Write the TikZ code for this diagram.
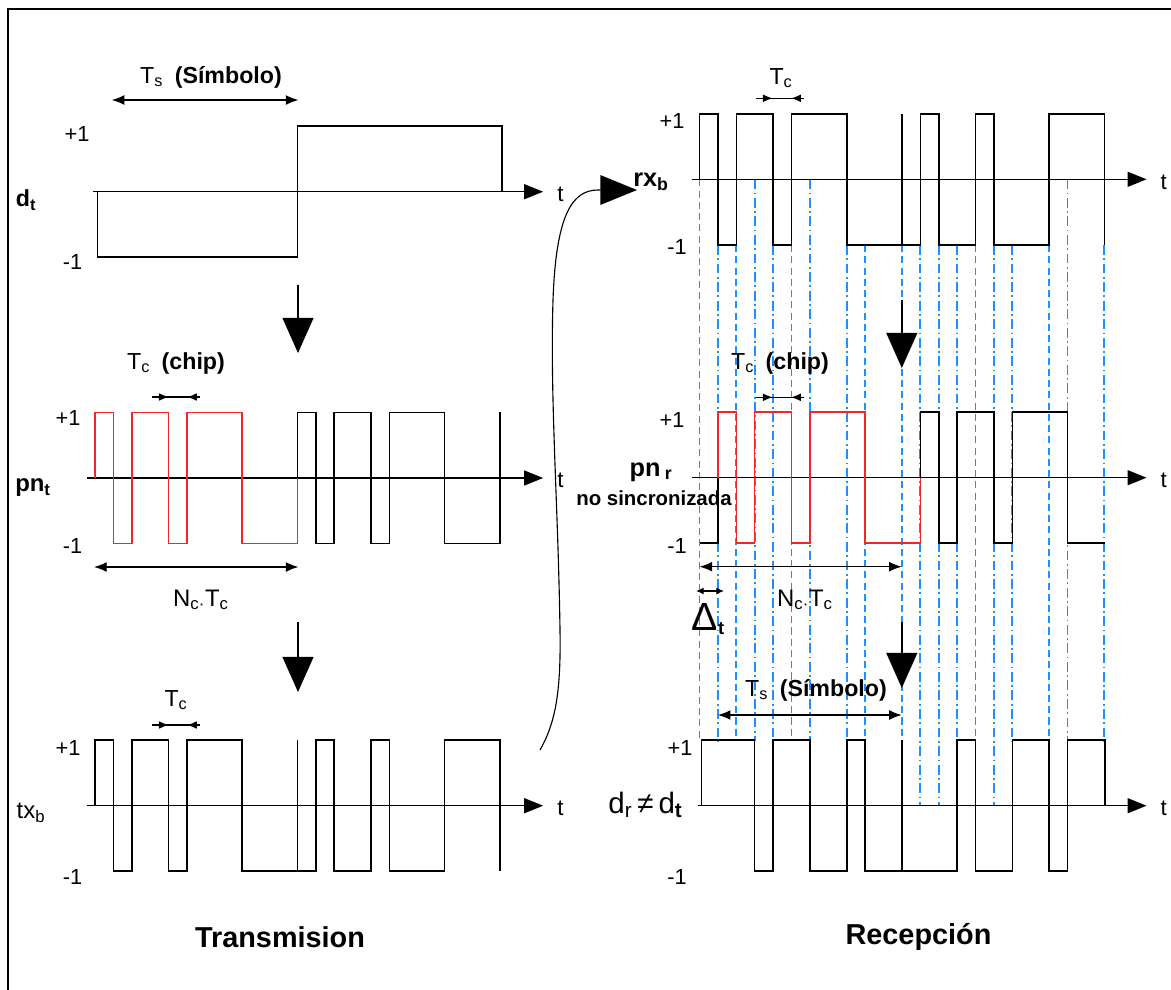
\documentclass[tikz,border=0pt]{standalone}
\usepackage{fontspec}
\setmainfont{Liberation Sans}
\usetikzlibrary{arrows.meta}
\definecolor{chipred}{RGB}{240,40,40}
\definecolor{syncblue}{RGB}{30,144,255}

% small chip-width marker: inner left, inner right, height
\newcommand{\tcmark}[3]{%
  \draw[line width=0.9pt] ({#1-17},#3) -- ({#2+13},#3);
  \draw[chipmark] ({#1-17},#3) -- (#1,#3);
  \draw[chipmark] ({#2+13},#3) -- (#2,#3);
}

\tikzset{
  sig/.style={line width=1.1pt},
  redsig/.style={line width=1.1pt,chipred},
  axis/.style={line width=1.1pt,-{Triangle[length=13.5pt,width=10.6pt]}},
  flow/.style={line width=1.1pt,-{Triangle[length=25pt,width=22pt]}},
  span/.style={line width=0.9pt,{Latex[length=9pt,width=7pt]}-{Latex[length=9pt,width=7pt]}},
  chipmark/.style={line width=0.9pt,-{Latex[length=7pt,width=5.5pt]}},
  bluedash/.style={syncblue,line width=1.4pt,dash pattern=on 5pt off 3pt},
  bluedot/.style={syncblue,line width=1.4pt,dash pattern=on 7pt off 2.5pt on 1.2pt off 2.5pt},
  lvl/.style={font=\fontsize{15.5}{17}\selectfont,inner sep=0pt},
  lbl/.style={font=\fontsize{16.5}{18}\selectfont,inner sep=0pt},
  tlab/.style={font=\fontsize{16}{18}\selectfont,inner sep=0pt,anchor=base west,xshift=9.5pt,yshift=-7pt},
  chips/.style={x=0.46cm,y=1.6375cm}
}

\begin{document}
\begin{tikzpicture}[x=0.025cm,y=-0.025cm]
  \useasboundingbox (0,0) rectangle (1171,989);
  \fill[white] (0,0) rectangle (1171,989);
  \clip (0,0) rectangle (1171,989);
  \draw[line width=1.2pt] (8,1000) -- (8,9) -- (1180,9);

  % sampling instants of the receiver
  \foreach \k/\ya/\yb/\sty in {0/179.3/741/bluedash,1/245/741/bluedot,2/245/741/bluedash,
      3/179.3/741/bluedot,4/245/741/bluedot,5/245/741/bluedash,6/179.3/741/bluedot,
      8/245/741/bluedot,9/245/741/bluedash,11/245/741/bluedash,12/245/805.7/bluedot,
      13/245/805.7/bluedot,14/245/741/bluedot,15/245/741/bluedash,16/245/805.7/bluedot,
      17/245/741/bluedot,19/245/741/bluedash,20/179.3/741/bluedot,22/245/741/bluedot}{
    \pgfmathsetmacro{\px}{699.5+18.4*\k}
    \draw[\sty] (\px,\ya) -- (\px,\yb);
  }

  % ---------- Transmision ----------
  \begin{scope}[shift={(95,191.7)},chips]
    \draw[axis] (-0.11,0) -- (24.35,0) node[tlab] (dt-t) {t};
    \draw[sig] (0.14,0) -- (0.14,-1) -- (11,-1) -- (11,1) -- (22.1,1) -- (22.1,0);
  \end{scope}
  \begin{scope}[shift={(95,478)},chips]
    \draw[axis] (-0.435,0) -- (24.35,0) node[tlab] (pn-t) {t};
    \draw[redsig] (0,0) -- (0,1) -- (1,1) -- (1,-1) -- (2,-1) -- (2,1) -- (4,1) -- (4,-1)
      -- (5,-1) -- (5,1) -- (8,1) -- (8,-1) -- (11,-1) -- (11,0);
    \draw[sig] (11,0) -- (11,1) -- (12,1) -- (12,-1) -- (13,-1) -- (13,1) -- (15,1) -- (15,-1)
      -- (16,-1) -- (16,1) -- (19,1) -- (19,-1) -- (22,-1) -- (22,1);
  \end{scope}
  \begin{scope}[shift={(95,805.7)},chips]
    \draw[axis] (-0.435,0) -- (24.35,0) node[tlab] (tx-t) {t};
    \draw[sig] (0,0) -- (0,1) -- (1,1) -- (1,-1) -- (2,-1) -- (2,1) -- (4,1) -- (4,-1)
      -- (5,-1) -- (5,1) -- (8,1) -- (8,-1) -- (12,-1) -- (12,1) -- (13,1) -- (13,-1)
      -- (15,-1) -- (15,1) -- (16,1) -- (16,-1) -- (19,-1) -- (19,1) -- (22,1) -- (22,-1);
    \draw[sig] (11,-1) -- (11,1);
  \end{scope}

  % ---------- Recepcion ----------
  \begin{scope}[shift={(699.5,179.3)},chips]
    \draw[axis] (-0.42,0) -- (24.29,0) node[tlab] (rx-t) {t};
    \draw[sig] (0,0) -- (0,1) -- (1,1) -- (1,-1) -- (2,-1) -- (2,1) -- (4,1) -- (4,-1)
      -- (5,-1) -- (5,1) -- (8,1) -- (8,-1) -- (12,-1) -- (12,1) -- (13,1) -- (13,-1)
      -- (15,-1) -- (15,1) -- (16,1) -- (16,-1) -- (19,-1) -- (19,1) -- (22,1) -- (22,-1);
    \draw[sig] (11,-1) -- (11,1);
  \end{scope}
  \begin{scope}[shift={(699.5,477.7)},chips]
    \draw[axis] (-0.42,0) -- (24.29,0) node[tlab] (pnr-t) {t};
    \draw[sig] (0,-1) -- (1,-1) -- (1,0);
    \draw[redsig] (1,0) -- (1,1) -- (2,1) -- (2,-1) -- (3,-1) -- (3,1) -- (5,1) -- (5,-1)
      -- (6,-1) -- (6,1) -- (9,1) -- (9,-1) -- (12,-1) -- (12,0);
    \draw[sig] (12,0) -- (12,1) -- (13,1) -- (13,-1) -- (14,-1) -- (14,1) -- (16,1) -- (16,-1)
      -- (17,-1) -- (17,1) -- (20,1) -- (20,-1) -- (22.03,-1);
  \end{scope}
  \begin{scope}[shift={(699.5,805.7)},chips]
    \draw[axis] (-0.07,0) -- (24.29,0) node[tlab] (dr-t) {t};
    \draw[sig] (0.11,0) -- (0.11,1) -- (3,1) -- (3,-1) -- (4,-1) -- (4,1) -- (6,1) -- (6,-1)
      -- (8,-1) -- (8,1) -- (9,1) -- (9,-1) -- (14,-1) -- (14,1) -- (15,1) -- (15,-1)
      -- (17,-1) -- (17,1) -- (19,1) -- (19,-1) -- (20,-1) -- (20,1) -- (22.03,1) -- (22.03,0);
    \draw[sig] (11,1) -- (11,-1);
  \end{scope}

  % levels
  \node[lvl] (dt-hi) at (77,134) {+1};   \node[lvl] (dt-lo) at (72.5,262) {-1};
  \node[lvl] (pn-hi) at (68,418) {+1};   \node[lvl] (pn-lo) at (72.5,546) {-1};
  \node[lvl] (tx-hi) at (68,748) {+1};   \node[lvl] (tx-lo) at (72.5,877) {-1};
  \node[lvl] (rx-hi) at (672,121) {+1};  \node[lvl] (rx-lo) at (677,247) {-1};
  \node[lvl] (pnr-hi) at (672,420) {+1}; \node[lvl] (pnr-lo) at (677,546) {-1};
  \node[lvl] (dr-hi) at (680,748) {+1};  \node[lvl] (dr-lo) at (677,877) {-1};

  % signal names
  \node[lbl,font=\fontsize{16.5}{18}\selectfont\bfseries] (dt-name) at (26,200) {d\textsubscript{t}};
  \node[lbl,font=\fontsize{17}{19}\selectfont\bfseries] (pn-name) at (33,488) {pn\textsubscript{t}};
  \node[lbl,font=\fontsize{17}{19}\selectfont] (tx-name) at (31,813) {tx\textsubscript{b}};
  \node[lbl,font=\fontsize{18}{20}\selectfont\bfseries] (rx-name) at (651,182) {rx\textsubscript{b}};
  \node[lbl,font=\fontsize{18}{20}\selectfont\bfseries] (pnr-name) at (651,472) {pn\,\textsubscript{r}};
  \node[lbl,font=\fontsize{14.5}{16}\selectfont\bfseries] (nosync) at (654,498) {no sincronizada};
  \node[lbl,font=\fontsize{28}{30}\selectfont] (delta) at (708,619) {Δ\raisebox{-3pt}{\fontsize{13}{15}\selectfont\bfseries t}};
  \node[lbl,font=\fontsize{21}{23}\selectfont] (dr-name) at (645.5,805) {d\textsubscript{r}\,≠\,d\textsubscript{\textbf{t}}};

  % time spans
  \draw[span] (111.7,100) -- (298.5,100);
  \node[lbl] (ts-top) at (211,77) {T\textsubscript{s}\hspace{0.5em}\textbf{(Símbolo)}};
  \tcmark{168.8}{187}{397}
  \node[lbl] (tc-pn) at (176,363) {T\textsubscript{c}\hspace{0.5em}\textbf{(chip)}};
  \draw[span] (94,567) -- (298.5,567);
  \node[lbl,font=\fontsize{17}{19}\selectfont] (nc-pn) at (201,600) {N\textsubscript{c·}T\textsubscript{c}};
  \tcmark{168.8}{187}{725}
  \node[lbl] (tc-tx) at (176,700) {T\textsubscript{c}};

  \tcmark{772.8}{791}{98.3}
  \node[lbl] (tc-rx) at (781,78) {T\textsubscript{c}};
  \tcmark{772.8}{791}{397.3}
  \node[lbl] (tc-pnr) at (780,363) {T\textsubscript{c}\hspace{0.5em}\textbf{(chip)}};
  \draw[span] (699.5,566.7) -- (901.8,566.7);
  \node[lbl,font=\fontsize{17}{19}\selectfont] (nc-pnr) at (805,600) {N\textsubscript{c·}T\textsubscript{c}};
  \draw[line width=0.9pt,{Latex[length=5.5pt,width=5pt]}-{Latex[length=5.5pt,width=5pt]}] (696,591) -- (724,591);
  \draw[span] (717.8,715) -- (901.8,715);
  \node[lbl] (ts-dr) at (816,690) {T\textsubscript{s}\hspace{0.5em}\textbf{(Símbolo)}};

  % processing steps
  \coordinate (s1a) at (298,285);   \coordinate (s1b) at (298,353);
  \coordinate (s2a) at (298,622);   \coordinate (s2b) at (298,692);
  \coordinate (r1a) at (901.8,300); \coordinate (r1b) at (901.8,368);
  \coordinate (r2a) at (901.8,622); \coordinate (r2b) at (901.8,688);
  \draw[flow] (s1a) -- (s1b);
  \draw[flow] (s2a) -- (s2b);
  \draw[flow] (r1a) -- (r1b);
  \draw[flow] (r2a) -- (r2b);

  % channel
  \coordinate (txout) at (540,750);
  \coordinate (rxin) at (637,190);
  \draw[line width=0.8pt,-{Triangle[length=26pt,width=21pt]}] (txout)
    .. controls (556,722) and (561,690) .. (560,630)
    .. controls (558,500) and (550,400) .. (553,300)
    .. controls (556,215) and (572,190) .. (598,190) -- (rxin);

  \node[lbl,font=\fontsize{20.5}{22}\selectfont\bfseries] (tx-title) at (280,937) {Transmision};
  \node[lbl,font=\fontsize{20.5}{22}\selectfont\bfseries] (rx-title) at (918.5,937) {Recepción};
\end{tikzpicture}
\end{document}
